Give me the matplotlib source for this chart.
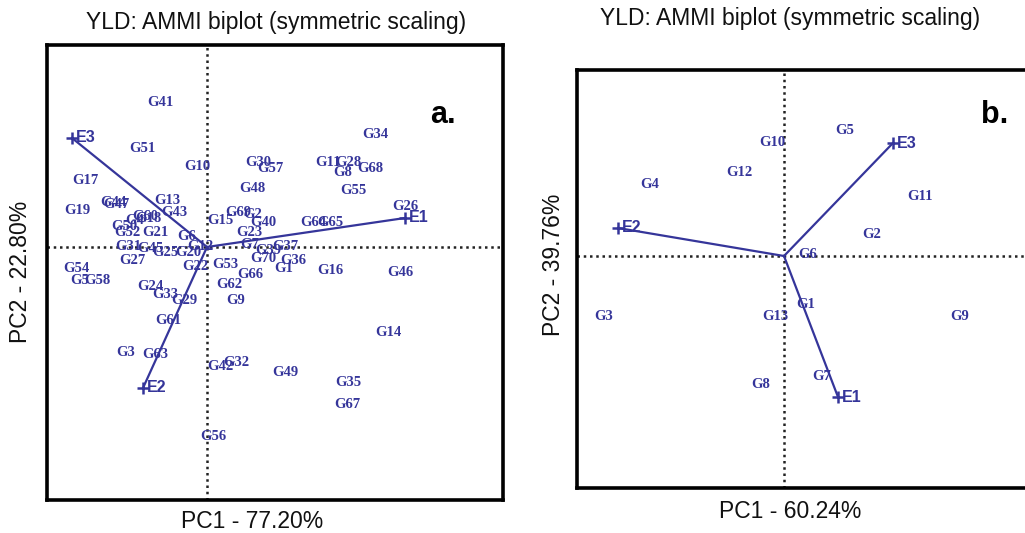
import matplotlib
matplotlib.use("Agg")
import matplotlib.pyplot as plt

# ---------------- Panel a data (PC1, PC2 scores) ----------------
gen_a = ["G41", "G51", "G10", "G30", "G57", "G11", "G28", "G8", "G68", "G34",
         "G55", "G26", "G64", "G65", "G16", "G46", "G14", "G35", "G67", "G49",
         "G42", "G32", "G56", "G3", "G63", "G61", "G29", "G33", "G24", "G54",
         "G5", "G58", "G19", "G17", "G44", "G47", "G13", "G43", "G15", "G69",
         "G2", "G40", "G48", "G23", "G37", "G7", "G39", "G70", "G36", "G1",
         "G53", "G66", "G62", "G9", "G22", "G20", "G6", "G12", "G21", "G25",
         "G45", "G31", "G52", "G50", "G27", "G4", "G18", "G60"]
pc1_a = [-2.35, -3.25, -0.5, 2.55, 3.15, 6.05, 7.05, 6.8, 8.15, 8.4,
         7.3, 9.9, 5.3, 6.15, 6.15, 9.65, 9.05, 7.05, 7.0, 3.9,
         0.65, 1.45, 0.3, -4.05, -2.6, -1.95, -1.15, -2.1, -2.85, -6.55,
         -6.35, -5.5, -6.5, -6.1, -4.7, -4.55, -2.0, -1.65, 0.65, 1.55,
         2.3, 2.8, 2.25, 2.1, 3.9, 2.15, 3.05, 2.8, 4.3, 3.85,
         0.9, 2.15, 1.1, 1.45, -0.6, -0.95, -1.0, -0.35, -2.6, -2.1,
         -2.85, -3.95, -4.0, -4.15, -3.75, -3.6, -2.95, -3.1]
pc2_a = [7.2, 4.95, 4.05, 4.25, 3.9, 4.2, 4.2, 3.75, 3.9, 5.6,
         2.85, 2.0, 1.2, 1.2, -1.15, -1.3, -4.25, -6.75, -7.9, -6.25,
         -5.95, -5.75, -9.5, -5.25, -5.35, -3.65, -2.65, -2.35, -1.95, -1.05,
         -1.65, -1.65, 1.85, 3.35, 2.2, 2.15, 2.3, 1.7, 1.3, 1.75,
         1.65, 1.25, 2.95, 0.7, 0.05, 0.15, -0.15, -0.55, -0.65, -1.05,
         -0.85, -1.35, -1.85, -2.7, -0.95, -0.25, 0.5, 0.05, 0.7, -0.25,
         -0.1, 0.0, 0.7, 1.05, -0.65, 1.35, 1.45, 1.55]
env_a = ["E1", "E2", "E3"]
env_pc1_a = [9.9, -3.2, -6.75]
env_pc2_a = [1.45, -7.05, 5.45]

# ---------------- Panel b data ----------------
gen_b = ["G10", "G5", "G12", "G4", "G11", "G2", "G6", "G1", "G13", "G3",
         "G9", "G8", "G7"]
pc1_b = [-0.6, 3.05, -2.25, -6.7, 6.8, 4.4, 1.2, 1.1, -0.45, -9.0,
         8.8, -1.15, 1.9]
pc2_b = [5.7, 6.25, 4.2, 3.6, 3.0, 1.1, 0.05, -2.4, -3.05, -3.0,
         -3.0, -6.4, -6.05]
env_b = ["E1", "E2", "E3"]
env_pc1_b = [2.7, -8.3, 5.45]
env_pc2_b = [-7.05, 1.4, 5.65]

title = "YLD: AMMI biplot (symmetric scaling)"

COL = "#35359a"
W, H = 1025, 533
fig = plt.figure(figsize=(W / 100, H / 100), dpi=100)


def px_axes(l, t, r, b):
    return fig.add_axes([l / W, 1 - b / H, (r - l) / W, (b - t) / H])


def draw(ax, gens, xs, ys, envs, exs, eys, xlim, ylim):
    ax.set_xlim(*xlim)
    ax.set_ylim(*ylim)
    ax.axhline(0, color="#222222", ls=(0, (1, 1.5)), lw=1.8, zorder=1)
    ax.axvline(0, color="#222222", ls=(0, (1, 1.5)), lw=1.8, zorder=1)
    for g, x, y in zip(gens, xs, ys):
        ax.text(x, y, g, color=COL, fontsize=10.5, family="Liberation Serif",
                fontweight="bold", ha="center", va="center", zorder=3)
    for e, x, y in zip(envs, exs, eys):
        ax.plot([0, x], [0, y], color=COL, lw=1.6, zorder=2)
        ax.plot([x], [y], marker="+", color=COL, ms=9, mew=1.8, zorder=3)
        ax.annotate(e, (x, y), xytext=(3, 0), textcoords="offset points",
                    color=COL, fontsize=11.5, family="Liberation Sans",
                    fontweight="bold", ha="left", va="center", zorder=3)
    ax.set_xticks([])
    ax.set_yticks([])
    for s in ax.spines.values():
        s.set_linewidth(2.6)
        s.set_color("black")


ax1 = px_axes(47, 45, 503, 500)
draw(ax1, gen_a, pc1_a, pc2_a, env_a, env_pc1_a, env_pc2_a,
     (-8.0, 14.8), (-12.65, 10.1))
ax2 = px_axes(577, 70, 1045, 488)
draw(ax2, gen_b, pc1_b, pc2_b, env_b, env_pc1_b, env_pc2_b,
     (-10.35, 13.05), (-11.6, 9.3))

tkw = dict(fontsize=16.5, family="Liberation Sans", color="#111111")
fig.text(276 / W, 1 - 22 / H, title, ha="center", va="center", **tkw)
fig.text(790 / W, 1 - 18 / H, title, ha="center", va="center", **tkw)
fig.text(252 / W, 1 - 521 / H, "PC1 - 77.20%", ha="center", va="center", **tkw)
fig.text(790 / W, 1 - 511 / H, "PC1 - 60.24%", ha="center", va="center", **tkw)
fig.text(21 / W, 1 - 272 / H, "PC2 - 22.80%", ha="center", va="center",
         rotation=90, **tkw)
fig.text(553 / W, 1 - 265 / H, "PC2 - 39.76%", ha="center", va="center",
         rotation=90, **tkw)
fig.text(443 / W, 1 - 115 / H, "a.", ha="center", va="center", fontsize=22,
         family="Liberation Sans", fontweight="bold", color="black")
fig.text(995 / W, 1 - 115 / H, "b.", ha="center", va="center", fontsize=22,
         family="Liberation Sans", fontweight="bold", color="black")

fig.savefig("out.png", dpi=100)
